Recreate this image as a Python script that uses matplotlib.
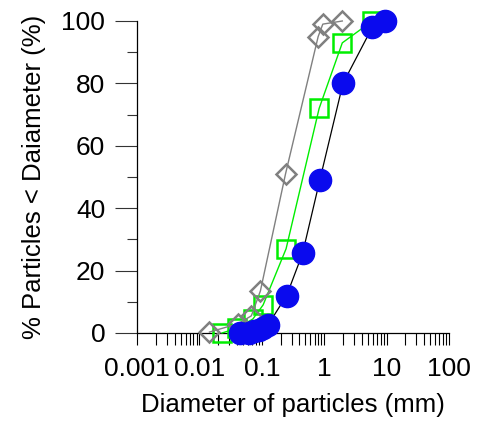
import matplotlib
matplotlib.use('Agg')
import matplotlib.pyplot as plt
from matplotlib.ticker import LogLocator, FixedLocator, NullFormatter

plt.rcParams['font.family'] = ['Liberation Sans', 'DejaVu Sans']

# sample 1 (blue circles)
d_blue = [0.045, 0.063, 0.075, 0.09, 0.106, 0.125, 0.25, 0.45, 0.85, 2.0, 5.9, 9.4]
p_blue = [0, 0, 0.5, 1, 1.5, 2.5, 12, 25.5, 49, 80, 98, 100]

# sample 2 (green squares)
d_green = [0.023, 0.04, 0.072, 0.105, 0.245, 0.83, 1.95, 5.9]
p_green = [0, 1.5, 4.5, 9, 27, 72, 93, 100]

# sample 3 (grey diamonds)
d_grey = [0.0145, 0.042, 0.068, 0.095, 0.24, 0.8, 0.95, 1.95]
p_grey = [0.3, 3, 5.5, 13.5, 51, 95, 99, 100]

xticks = [0.001, 0.01, 0.1, 1, 10, 100]
xtick_labels = ['0.001', '0.01', '0.1', '1', '10', '100']
yticks = [0, 20, 40, 60, 80, 100]


def main():
    fig = plt.figure(figsize=(4.85, 4.21), dpi=100)
    ax = fig.add_axes([137 / 485, 88 / 421, 312 / 485, 312 / 421])

    ax.plot(d_green, p_green, '-', color='#00ee00', lw=1.0, marker='s', ms=13,
            mfc='none', mec='#00ee00', mew=1.8, clip_on=False, zorder=3)
    ax.plot(d_grey, p_grey, '-', color='#808080', lw=1.0, marker='D', ms=10,
            mfc='none', mec='#808080', mew=1.8, clip_on=False, zorder=4)
    ax.plot(d_blue, p_blue, '-', color='black', lw=0.9, marker='o', ms=16,
            mfc='#0a0aee', mec='#0a0aee', clip_on=False, zorder=5)

    ax.set_xscale('log')
    ax.set_xlim(0.001, 100)
    ax.set_ylim(0, 100)

    ax.xaxis.set_major_locator(FixedLocator(xticks))
    ax.set_xticklabels(xtick_labels)
    ax.xaxis.set_minor_locator(LogLocator(base=10, subs=range(2, 10), numticks=20))
    ax.xaxis.set_minor_formatter(NullFormatter())
    ax.set_yticks(yticks)
    ax.set_yticks([10, 30, 50, 70, 90], minor=True)

    ax.tick_params(axis='x', which='both', direction='out', length=8.6,
                   width=0.8, labelsize=19, pad=9)
    ax.tick_params(axis='y', which='major', direction='out', length=15.8,
                   width=0.8, color='#333333', labelsize=19, pad=7)
    ax.tick_params(axis='y', which='minor', direction='out', length=7.2,
                   width=0.8, color='#333333')

    for s in ['top', 'right']:
        ax.spines[s].set_visible(False)
    for s in ['left', 'bottom']:
        ax.spines[s].set_linewidth(0.9)

    ax.set_xlabel('Diameter of particles (mm)', fontsize=18.5, labelpad=8)
    ax.set_ylabel('% Particles < Daiameter (%)', fontsize=18.5, labelpad=11)

    fig.savefig('out.png', dpi=100)


if __name__ == '__main__':
    main()
